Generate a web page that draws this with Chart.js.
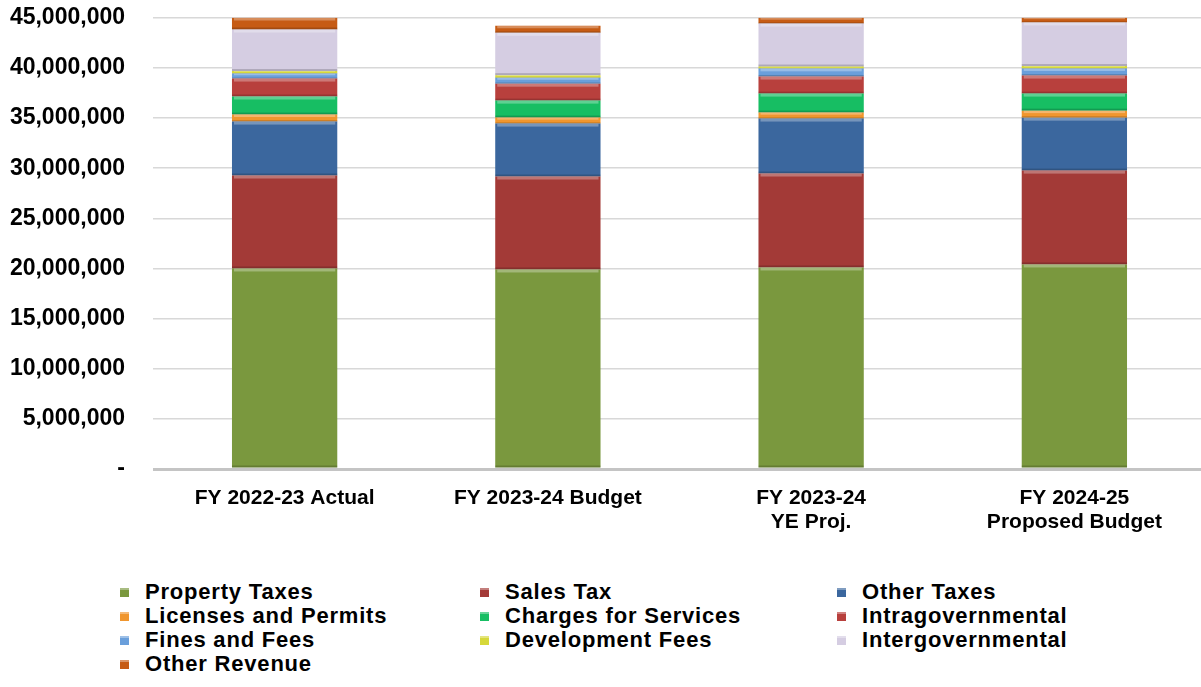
<!DOCTYPE html>
<html>
<head>
<meta charset="utf-8">
<script src="https://cdn.jsdelivr.net/npm/chart.js@4/dist/chart.umd.min.js"></script>
<style>
  html, body { margin: 0; padding: 0; background: #fff; }
  #wrap { position: relative; width: 1201px; height: 687px; overflow: hidden; }
  #chart { position: absolute; left: 0; top: -24px; }
  .item { position: absolute; font: bold 22px "Liberation Sans", Arial, sans-serif; letter-spacing: 0.8px;
          color: #000; white-space: nowrap; line-height: 24px; }
  .box { position: absolute; left: 0; top: 8px; width: 9px; height: 9px; }
  .item span { position: absolute; left: 25px; top: 0; }
</style>
</head>
<body>
<div id="wrap">
  <canvas id="chart" width="1206" height="584"></canvas>
  <div id="legend"></div>
</div>
<script>
// Fiscal years on the x axis
const years = [
    "FY 2022-23 Actual",
    "FY 2023-24 Budget",
    ["FY 2023-24", "YE Proj."],
    ["FY 2024-25", "Proposed Budget"]
];

// Revenue by source (dollars), stacked bottom to top
const propertyTaxes      = [20000000, 19900000, 20100000, 20400000];
const salesTax           = [9270000, 9270000, 9370000, 9360000];
const otherTaxes         = [5380000, 5280000, 5480000, 5280000];
const licensesPermits    = [700000, 600000, 600000, 700000];
const chargesServices    = [1800000, 1690000, 1890000, 1700000];
const intragovernmental  = [1790000, 1690000, 1700000, 1800000];
const finesFees          = [500000, 600000, 800000, 700000];
const developmentFees    = [250000, 250000, 200000, 250000];
const intergovernmental  = [4140000, 4220000, 4280000, 4350000];
const otherRevenue       = [1200000, 700000, 600000, 500000];

const seriesNames = ["Property Taxes", "Sales Tax", "Other Taxes", "Licenses and Permits",
    "Charges for Services", "Intragovernmental", "Fines and Fees", "Development Fees",
    "Intergovernmental", "Other Revenue"];
const seriesData = [propertyTaxes, salesTax, otherTaxes, licensesPermits, chargesServices,
    intragovernmental, finesFees, developmentFees, intergovernmental, otherRevenue];
const seriesColors = ["#7A983E", "#A33A37", "#3B679E", "#F0962E", "#17BE63",
    "#B8403D", "#6A9FDB", "#D6D83A", "#D5CDE2", "#C65B14"];

// Y axis ticks
const yMax = 45000000;
const yStep = 5000000;

// light top edge / dark bottom edge on each segment
const bevel = {
    id: "bevel",
    afterDatasetsDraw(chart) {
        const ctx = chart.ctx;
        const a = chart.chartArea;
        ctx.save();
        ctx.beginPath();
        ctx.rect(a.left, a.top, a.right - a.left, a.bottom - a.top);
        ctx.clip();
        chart.data.datasets.forEach((ds, i) => {
            const meta = chart.getDatasetMeta(i);
            meta.data.forEach(bar => {
                const p = bar.getProps(["x", "y", "base", "width"], true);
                const h = p.base - p.y;
                if (h <= 0) return;
                const left = p.x - p.width / 2;
                const hl = Math.min(3, h * 0.35);
                ctx.fillStyle = "rgba(255,255,255,0.3)";
                ctx.fillRect(left + 2, p.y, p.width - 4, hl);
                const sh = Math.min(2, h * 0.2);
                ctx.fillStyle = "rgba(0,0,0,0.18)";
                ctx.fillRect(left, p.base - sh, p.width, sh);
            });
        });
        ctx.restore();
    }
};

const font = { family: "'Liberation Sans', Arial, sans-serif", weight: "bold" };

const chart = new Chart(document.getElementById("chart"), {
    type: "bar",
    data: {
        labels: years,
        datasets: seriesNames.map((name, i) => ({
            label: name,
            data: seriesData[i],
            backgroundColor: seriesColors[i],
            borderWidth: 0,
            categoryPercentage: 1,
            barPercentage: 0.4
        }))
    },
    options: {
        responsive: false,
        animation: false,
        layout: { padding: { top: 8, right: 0, bottom: 0, left: 0 } },
        plugins: { legend: { display: false }, tooltip: { enabled: false } },
        scales: {
            x: {
                stacked: true,
                grid: { display: false, drawTicks: false },
                border: { display: false },
                ticks: {
                    color: "#000",
                    font: { ...font, size: 21, lineHeight: 1.15 },
                    padding: 17,
                    maxRotation: 0,
                    autoSkip: false
                },
                afterFit(scale) { scale.height = 91; }
            },
            y: {
                stacked: true,
                min: 0,
                max: yMax,
                grid: {
                    drawTicks: false,
                    color: ctx => ctx.tick.value === 0 ? "#C4C4C4" : "#D8D8D8",
                    lineWidth: ctx => ctx.tick.value === 0 ? 3 : 1.5
                },
                border: { display: false },
                ticks: {
                    stepSize: yStep,
                    color: "#000",
                    font: { ...font, size: 23 },
                    padding: 28,
                    callback: v => v === 0 ? "-" : v.toLocaleString("en-US")
                },
                afterFit(scale) { scale.width = 153; }
            }
        }
    },
    plugins: [bevel]
});

// legend in three columns below the chart
const legend = document.getElementById("legend");
const colLeft = [120, 480, 837];
chart.data.datasets.forEach((ds, i) => {
    const item = document.createElement("div");
    item.className = "item";
    item.style.left = colLeft[i % 3] + "px";
    item.style.top = (580 + Math.floor(i / 3) * 24) + "px";
    const box = document.createElement("div");
    box.className = "box";
    box.style.background = ds.backgroundColor;
    box.style.boxShadow = "inset 0 2px 0 rgba(255,255,255,0.35)";
    const text = document.createElement("span");
    text.textContent = ds.label;
    item.appendChild(box);
    item.appendChild(text);
    legend.appendChild(item);
});
</script>
</body>
</html>
